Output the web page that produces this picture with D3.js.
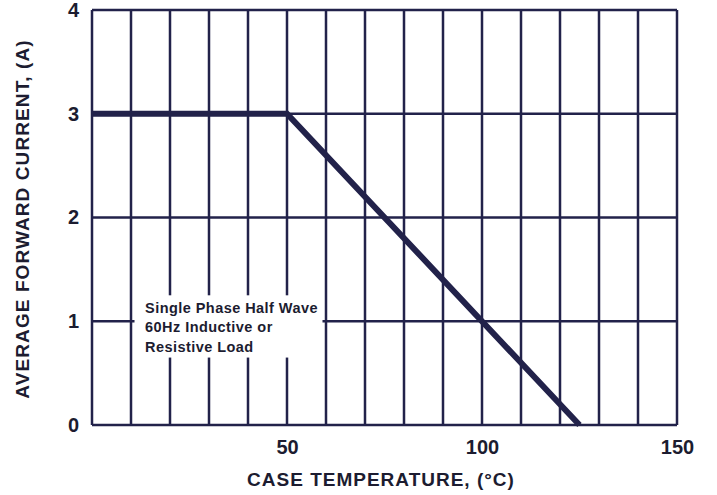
<meta charset="utf-8">
<script src="https://d3js.org/d3.v7.min.js"></script>
<style>
  body { margin: 0; background: #fff; }
  text { font-family: "Liberation Sans", Arial, sans-serif; fill: #1c1c30; }
</style>
<div id="chart"></div>
<script>
// Dati della curva di derating
var caseTemp = [0, 50, 125]
var avgCurrent = [3, 3, 0]

// Etichette dei tick
var xTicks = [50, 100, 150]
var yTicks = [0, 1, 2, 3, 4]
var xGrid = d3.range(0, 151, 10)

var noteLines = ["Single Phase Half Wave", "60Hz Inductive or", "Resistive Load"]

var W = 717, H = 495
var margin = { top: 10, right: 40, bottom: 70, left: 92 }
var ink = "#22224a"

var svg = d3.select("#chart")
    .append("svg")
    .attr("width", W)
    .attr("height", H)

var x = d3.scaleLinear().domain([0, 150]).range([margin.left, W - margin.right])
var y = d3.scaleLinear().domain([0, 4]).range([H - margin.bottom, margin.top])

// Griglia
var grid = svg.append("g")
    .attr("stroke", ink)
    .attr("stroke-width", 2.5)

grid.selectAll(".v")
    .data(xGrid)
    .enter()
    .append("line")
    .attr("x1", function(d) { return x(d) })
    .attr("x2", function(d) { return x(d) })
    .attr("y1", y(0))
    .attr("y2", y(4))

grid.selectAll(".h")
    .data(yTicks)
    .enter()
    .append("line")
    .attr("x1", x(0))
    .attr("x2", x(150))
    .attr("y1", function(d) { return y(d) })
    .attr("y2", function(d) { return y(d) })

// Riquadro bianco per la nota (fra la griglia a 10 e quella a 60)
svg.append("rect")
    .attr("x", x(10.9))
    .attr("y", y(1.25))
    .attr("width", x(59.1) - x(10.9))
    .attr("height", y(0.65) - y(1.25))
    .attr("fill", "#fff")

svg.append("text")
    .attr("x", x(13.6))
    .attr("y", y(1.08))
    .style("font-size", "14.5px")
    .style("font-weight", "bold")
    .style("letter-spacing", "0.45px")
    .selectAll("tspan")
    .data(noteLines)
    .enter()
    .append("tspan")
    .attr("x", x(13.6))
    .attr("dy", function(d, i) { return i == 0 ? 0 : 19.5 })
    .text(function(d) { return d })

// Curva
var points = caseTemp.map(function(t, i) { return [t, avgCurrent[i]] })

svg.append("path")
    .datum(points)
    .attr("fill", "none")
    .attr("stroke", ink)
    .attr("stroke-width", 6)
    .attr("stroke-linejoin", "miter")
    .attr("d", d3.line()
        .x(function(d) { return x(d[0]) })
        .y(function(d) { return y(d[1]) }))

// Assi (solo etichette)
var xAxis = svg.append("g")
    .attr("transform", "translate(0," + y(0) + ")")
    .call(d3.axisBottom(x).tickValues(xTicks).tickSize(0).tickPadding(15))
xAxis.select(".domain").remove()
xAxis.selectAll("text")
    .style("font-size", "20px")
    .style("font-weight", "bold")
    .style("font-family", "Liberation Sans, Arial, sans-serif")
    .attr("fill", "#1c1c30")

var yAxis = svg.append("g")
    .attr("transform", "translate(" + x(0) + ",0)")
    .call(d3.axisLeft(y).tickValues(yTicks).tickFormat(d3.format("d")).tickSize(0).tickPadding(13))
yAxis.select(".domain").remove()
yAxis.selectAll("text")
    .style("font-size", "20px")
    .style("font-weight", "bold")
    .style("font-family", "Liberation Sans, Arial, sans-serif")
    .attr("fill", "#1c1c30")

// Titoli
svg.append("text")
    .attr("x", 381)
    .attr("y", 486)
    .attr("text-anchor", "middle")
    .style("font-size", "19px")
    .style("font-weight", "bold")
    .style("letter-spacing", "1px")
    .text("CASE TEMPERATURE, (°C)")

svg.append("text")
    .attr("transform", "translate(29,219) rotate(-90)")
    .attr("text-anchor", "middle")
    .style("font-size", "19px")
    .style("font-weight", "bold")
    .style("letter-spacing", "1.1px")
    .text("AVERAGE FORWARD CURRENT, (A)")
</script>
